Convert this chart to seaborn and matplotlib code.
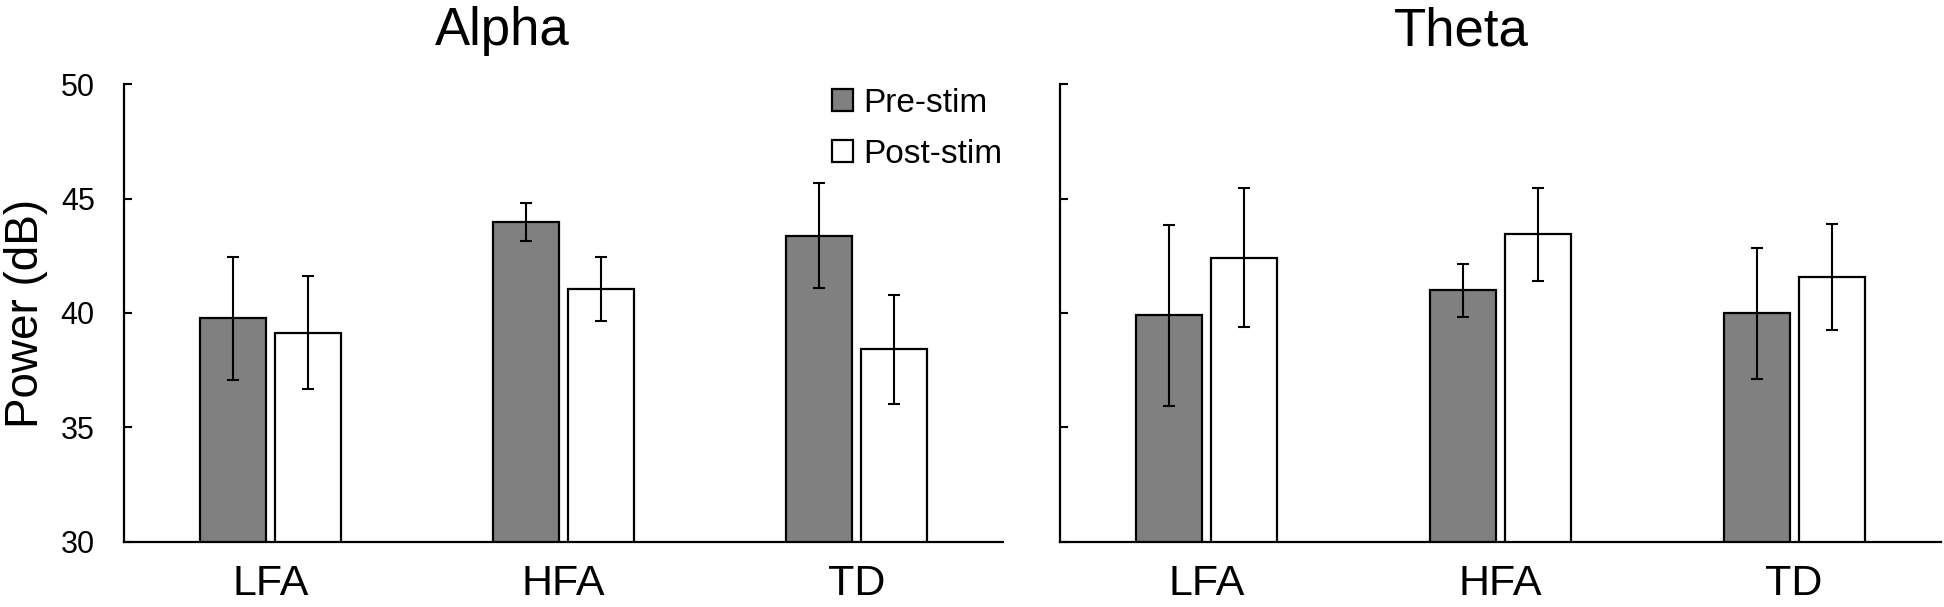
import numpy as np
import pandas as pd
import matplotlib
matplotlib.use("Agg")
import matplotlib.pyplot as plt
import seaborn as sns

# ---- data ----
groups = ["LFA", "HFA", "TD"]
conditions = ["Pre-stim", "Post-stim"]
bands = ["Alpha", "Theta"]

alpha_pre = [39.77, 43.97, 43.38]
alpha_post = [39.14, 41.03, 38.41]
alpha_pre_err = [2.70, 0.82, 2.30]
alpha_post_err = [2.47, 1.40, 2.37]

theta_pre = [39.90, 41.00, 39.99]
theta_post = [42.42, 43.44, 41.57]
theta_pre_err = [3.96, 1.16, 2.87]
theta_post_err = [3.05, 2.03, 2.30]

yticks = [30, 35, 40, 45, 50]

values = {
    "Alpha": {"Pre-stim": (alpha_pre, alpha_pre_err), "Post-stim": (alpha_post, alpha_post_err)},
    "Theta": {"Pre-stim": (theta_pre, theta_pre_err), "Post-stim": (theta_post, theta_post_err)},
}

rows = []
for b in bands:
    for c in conditions:
        v, e = values[b][c]
        for g, vi, ei in zip(groups, v, e):
            rows.append({"band": b, "cond": c, "group": g, "power": vi, "err": ei})
df = pd.DataFrame(rows)

# ---- style ----
sns.set_style("ticks")
plt.rcParams["font.family"] = ["Liberation Sans", "DejaVu Sans"]
for k in ["text.color", "axes.labelcolor", "xtick.color", "ytick.color", "axes.edgecolor"]:
    plt.rcParams[k] = "black"

W, H = 1944, 607
fig = plt.figure(figsize=(W / 100, H / 100), dpi=100)
y_bot, y_top = 541.7, 84.3
ax1 = fig.add_axes([124 / W, 1 - y_bot / H, 879 / W, (y_bot - y_top) / H])
ax2 = fig.add_axes([1060 / W, 1 - y_bot / H, 881 / W, (y_bot - y_top) / H])

palette = {"Pre-stim": "#808080", "Post-stim": "#ffffff"}
title_x = {"Alpha": 0.43, "Theta": 0.455}

for ax, band in zip([ax1, ax2], bands):
    sub = df[df["band"] == band]
    sns.barplot(data=sub, x="group", y="power", hue="cond", order=groups,
                hue_order=conditions, palette=palette, edgecolor="black",
                linewidth=1.6, width=0.51, gap=0.12, errorbar=None,
                ax=ax, legend=(band == "Alpha"), saturation=1)
    # error bars placed at the bar centres produced by seaborn
    for cont, cond in zip(ax.containers, conditions):
        s = sub[sub["cond"] == cond].set_index("group").loc[groups]
        xs = [p.get_x() + p.get_width() / 2 for p in cont.patches]
        ax.errorbar(xs, s["power"].values, yerr=s["err"].values, fmt="none",
                    ecolor="black", elinewidth=1.5, capsize=4, capthick=1.5, zorder=5)

    ax.set_ylim(30, 50)
    ax.set_xlim(-0.5, 2.5)
    ax.set_yticks(yticks)
    ax.set_xlabel("")
    ax.set_ylabel("")
    ax.set_title(band, fontsize=38, pad=28, x=title_x[band], color="black")
    for sp in ["top", "right"]:
        ax.spines[sp].set_visible(False)
    for sp in ["left", "bottom"]:
        ax.spines[sp].set_linewidth(1.6)
        ax.spines[sp].set_color("black")
    ax.tick_params(axis="y", direction="in", length=5.5, width=1.5,
                   labelsize=22, pad=21, colors="black")
    ax.tick_params(axis="x", length=0, labelsize=31, pad=16, colors="black")

ax2.set_yticklabels([])
ax1.set_ylabel("Power (dB)", fontsize=33, labelpad=9)

handles, labels = ax1.get_legend_handles_labels()
ax1.legend(handles, labels, loc="upper left", bbox_to_anchor=(0.805, 0.993),
           frameon=False, fontsize=24, handlelength=0.65, handleheight=0.65,
           handletextpad=0.3, labelspacing=0.6, borderpad=0, borderaxespad=0)

fig.savefig("out.png", dpi=100)
